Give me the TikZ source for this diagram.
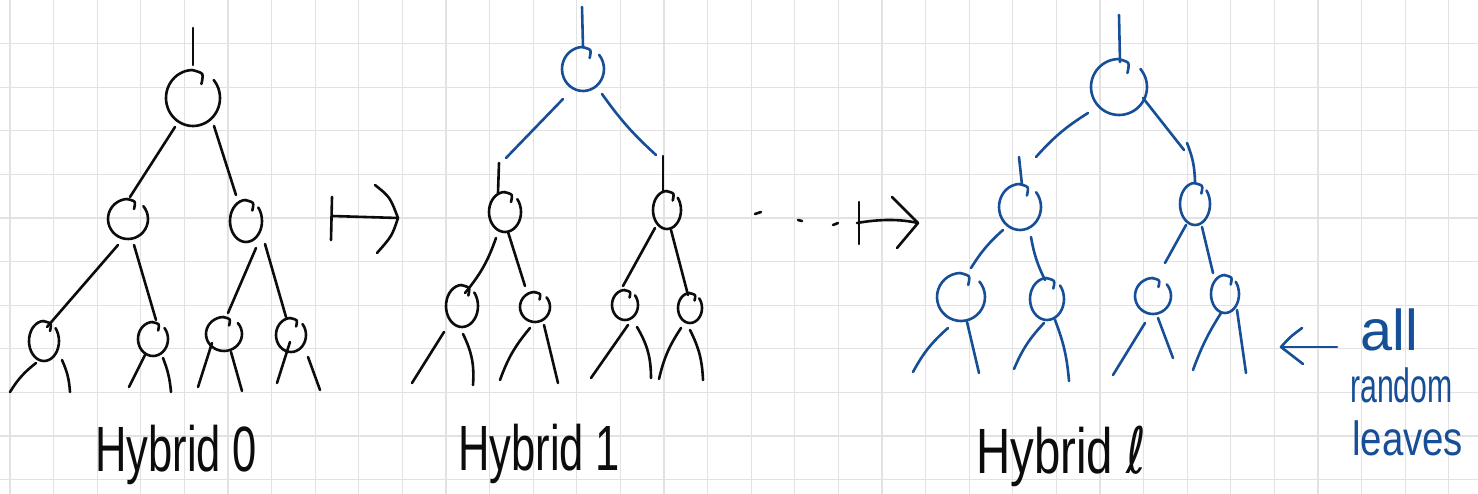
\documentclass[tikz,border=0pt]{standalone}
\usepackage{fontspec}
\setmainfont{Liberation Sans}
\newfontfamily\symbolfont{DejaVu Sans}
\usepackage{graphicx}
\usetikzlibrary{shapes.geometric}
\definecolor{inkblue}{RGB}{22,78,152}
\definecolor{inkblack}{RGB}{12,12,12}
\definecolor{gridline}{RGB}{226,226,226}

% A pen-drawn tree vertex: open loop with a small curl at the top.
% #1 colour, #2 name, #3/#4 centre, #5/#6 radii
\newcommand\handnode[6][inkblack]{%
  \node[circnode, minimum width={2*#5}, minimum height={2*#6}] (#2) at (#3,#4) {};
  \draw[pen,#1] plot[smooth, domain=-40:268, samples=32, variable=\q]
    ({#3+#5*cos(\q)},{#4+#6*sin(\q)});
  \draw[pen,#1] plot[smooth] coordinates {({#3-1},{#4-#6}) ({#3+0.33*#6},{#4-0.86*#6}) ({#3+0.3*#6},{#4-0.5*#6})};
}

\begin{document}
\begin{tikzpicture}[x=1pt,y=-1pt,
  pen/.style={line width=2.6pt,line cap=round,line join=round},
  circnode/.style={shape=ellipse,draw=none,inner sep=0pt,outer sep=0pt},
  hybrid/.style={anchor=base west,inner sep=0pt,text=inkblack,font=\fontsize{64}{70}\selectfont},
  note/.style={anchor=base west,inner sep=0pt,text=inkblue,font=\fontsize{48}{50}\selectfont}]

\useasboundingbox (0,0) rectangle (1478,494);
\fill[white] (0,0) rectangle (1478,494);

% squared paper
\foreach \k in {0,...,33}
  \draw[gridline, line width=1.2pt] ({10+43.6*\k},0) -- ({10+43.6*\k},494);
\foreach \k in {1,...,11}
  \draw[gridline, line width=1.2pt] (0,{43.6*\k}) -- (1478,{43.6*\k});

% ---------------- Hybrid 0 ----------------
\handnode{r0}{193}{98}{27}{28}
\handnode{a0}{128}{219}{20}{20}
\handnode{b0}{246}{221}{16}{21}
\handnode{c0}{44}{341}{15}{20}
\handnode{d0}{153}{339}{15}{17}
\handnode{e0}{224}{334}{18}{17}
\handnode{f0}{291}{335}{15}{17}
\begin{scope}[inkblack]
\draw[pen] ([shift={(0,-70)}]r0.center) -- ([shift={(0,-33)}]r0.center);
\draw[pen] ([shift={(-18,29)}]r0.center) -- ([shift={(2,-22)}]a0.center);
\draw[pen] ([shift={(21,28)}]r0.center) -- ([shift={(-10,-26)}]b0.center);
\draw[pen] ([shift={(-10,26)}]a0.center) -- ([shift={(3,-14)}]c0.center);
\draw[pen] ([shift={(6,26)}]a0.center) -- ([shift={(3,-19)}]d0.center);
\draw[pen] ([shift={(10,27)}]b0.center) -- ([shift={(4,-21)}]e0.center);
\draw[pen] ([shift={(19,23)}]b0.center) -- ([shift={(-5,-18)}]f0.center);
% leaves
\draw[pen] ([shift={(-8,22)}]c0.center) to[bend right=10] ([shift={(-34,51)}]c0.center);
\draw[pen] ([shift={(18,19)}]c0.center) to[bend left=10] ([shift={(26,51)}]c0.center);
\draw[pen] ([shift={(-8,16)}]d0.center) -- ([shift={(-24,48)}]d0.center);
\draw[pen] ([shift={(10,19)}]d0.center) to[bend left=8] ([shift={(18,53)}]d0.center);
\draw[pen] ([shift={(-12,9)}]e0.center) -- ([shift={(-26,53)}]e0.center);
\draw[pen] ([shift={(7,18)}]e0.center) -- ([shift={(18,57)}]e0.center);
\draw[pen] ([shift={(-1,7)}]f0.center) -- ([shift={(-14,48)}]f0.center);
\draw[pen] ([shift={(17,22)}]f0.center) -- ([shift={(29,55)}]f0.center);
\end{scope}
\node[hybrid] (lab0) at (95,471) {\scalebox{0.68}[1]{Hybrid 0}};

% maps-to arrow
\coordinate (m1bt) at (332,197);
\coordinate (m1bb) at (331,240);
\coordinate (m1s) at (332,216);
\coordinate (m1t) at (398,218);
\coordinate (m1u) at (375,185);
\coordinate (m1d) at (377,253);
\draw[pen,inkblack] (m1bt) -- (m1bb);
\draw[pen,inkblack] (m1s) -- (m1t);
\draw[pen,inkblack] (m1u) .. controls (390,197) .. (m1t) .. controls (392,236) .. (m1d);

% ---------------- Hybrid 1 ----------------
\handnode[inkblue]{r1}{583}{69}{21}{22}
\handnode{a1}{505}{212}{16}{20}
\handnode{b1}{667}{210}{14}{19}
\handnode{c1}{462}{306}{16}{21}
\handnode{d1}{535}{307}{15}{15}
\handnode{e1}{625}{305}{13}{15}
\handnode{f1}{690}{308}{12}{15}
\begin{scope}[inkblue]
\draw[pen] ([shift={(-1,-62)}]r1.center) -- ([shift={(0,-22)}]r1.center);
\draw[pen] ([shift={(-20,30)}]r1.center) -- ([shift={(1,-54)}]a1.center);
\draw[pen] ([shift={(19,25)}]r1.center) to[bend right=6] ([shift={(-11,-55)}]b1.center);
\end{scope}
\begin{scope}[inkblack]
\draw[pen] ([shift={(-6,-49)}]a1.center) -- ([shift={(-7,-19)}]a1.center);
\draw[pen] ([shift={(-4,-54)}]b1.center) -- ([shift={(-4,-18)}]b1.center);
\draw[pen] ([shift={(-9,26)}]a1.center) to[bend left=10] ([shift={(3,-13)}]c1.center);
\draw[pen] ([shift={(3,20)}]a1.center) -- ([shift={(-10,-21)}]d1.center);
\draw[pen] ([shift={(-12,18)}]b1.center) -- ([shift={(-2,-19)}]e1.center);
\draw[pen] ([shift={(4,20)}]b1.center) -- ([shift={(-2,-13)}]f1.center);
% leaves
\draw[pen] ([shift={(-18,26)}]c1.center) -- ([shift={(-50,77)}]c1.center);
\draw[pen] ([shift={(1,28)}]c1.center) to[bend left=15] ([shift={(11,79)}]c1.center);
\draw[pen] ([shift={(-5,21)}]d1.center) to[bend right=10] ([shift={(-35,73)}]d1.center);
\draw[pen] ([shift={(9,18)}]d1.center) -- ([shift={(23,76)}]d1.center);
\draw[pen] ([shift={(3,20)}]e1.center) -- ([shift={(-34,73)}]e1.center);
\draw[pen] ([shift={(12,22)}]e1.center) to[bend left=15] ([shift={(26,73)}]e1.center);
\draw[pen] ([shift={(-9,20)}]f1.center) to[bend right=10] ([shift={(-31,71)}]f1.center);
\draw[pen] ([shift={(0,22)}]f1.center) to[bend left=12] ([shift={(13,72)}]f1.center);
\end{scope}
\node[hybrid] (lab1) at (458,470) {\scalebox{0.68}[1]{Hybrid 1}};

% dots and second maps-to arrow
\coordinate (dt1a) at (755,214); \coordinate (dt1b) at (761,212);
\coordinate (dt2a) at (798,220); \coordinate (dt2b) at (802,221);
\coordinate (dt3a) at (833,225); \coordinate (dt3b) at (838,223);
\draw[pen,inkblack] (dt1a) -- (dt1b);
\draw[pen,inkblack] (dt2a) -- (dt2b);
\draw[pen,inkblack] (dt3a) -- (dt3b);
\coordinate (m2bt) at (859,202);
\coordinate (m2bb) at (859,244);
\coordinate (m2s) at (857,223);
\coordinate (m2t) at (918,223);
\coordinate (m2u) at (892,197);
\coordinate (m2d) at (897,248);
\draw[pen,inkblack] (m2bt) -- (m2bb);
\draw[pen,inkblack] (m2s) .. controls (880,219) and (900,219) .. (m2t);
\draw[pen,inkblack] (m2u) -- (m2t) -- (m2d);

% ---------------- Hybrid l ----------------
\handnode[inkblue]{rl}{1119}{87}{28}{28}
\handnode[inkblue]{al}{1020}{207}{21}{23}
\handnode[inkblue]{bl}{1195}{204}{15}{21}
\handnode[inkblue]{cl}{961}{297}{24}{24}
\handnode[inkblue]{dl}{1047}{299}{17}{21}
\handnode[inkblue]{el}{1153}{296}{18}{18}
\handnode[inkblue]{fl}{1225}{294}{14}{19}
\begin{scope}[inkblue]
\draw[pen] ([shift={(0,-72)}]rl.center) -- ([shift={(1,-25)}]rl.center);
\draw[pen] ([shift={(-31,26)}]rl.center) to[bend right=8] ([shift={(16,-50)}]al.center);
\draw[pen] ([shift={(24,11)}]rl.center) -- ([shift={(-11,-54)}]bl.center);
\draw[pen] ([shift={(-1,-50)}]al.center) -- ([shift={(2,-22)}]al.center);
\draw[pen] ([shift={(-8,-61)}]bl.center) to[bend left=10] ([shift={(0,-22)}]bl.center);
\draw[pen] ([shift={(-17,23)}]al.center) to[bend right=8] ([shift={(10,-29)}]cl.center);
\draw[pen] ([shift={(11,30)}]al.center) to[bend right=8] ([shift={(-2,-19)}]dl.center);
\draw[pen] ([shift={(-9,21)}]bl.center) -- ([shift={(12,-33)}]el.center);
\draw[pen] ([shift={(7,23)}]bl.center) -- ([shift={(-12,-21)}]fl.center);
% leaves
\draw[pen] ([shift={(-13,31)}]cl.center) to[bend right=10] ([shift={(-48,75)}]cl.center);
\draw[pen] ([shift={(6,25)}]cl.center) -- ([shift={(18,76)}]cl.center);
\draw[pen] ([shift={(-3,24)}]dl.center) to[bend right=10] ([shift={(-33,70)}]dl.center);
\draw[pen] ([shift={(8,21)}]dl.center) to[bend left=8] ([shift={(22,82)}]dl.center);
\draw[pen] ([shift={(-8,27)}]el.center) -- ([shift={(-40,79)}]el.center);
\draw[pen] ([shift={(5,22)}]el.center) -- ([shift={(20,62)}]el.center);
\draw[pen] ([shift={(-4,19)}]fl.center) to[bend right=6] ([shift={(-32,76)}]fl.center);
\draw[pen] ([shift={(12,16)}]fl.center) -- ([shift={(21,79)}]fl.center);
\end{scope}
\node[hybrid] (labl) at (976,473) {\scalebox{0.74}[1]{Hybrid {\symbolfont ℓ}}};

% pointer to the leaves
\coordinate (pa) at (1337,347);
\coordinate (pt) at (1281,347);
\coordinate (pu) at (1302,328);
\coordinate (pd) at (1303,364);
\draw[pen,inkblue] (pa) -- (pt);
\draw[pen,inkblue] (pu) .. controls (1290,337) .. (pt) .. controls (1292,355) .. (pd);
\node[note] (note1) at (1360,350) {\scalebox{1.2}[1.2]{all}};
\node[note] (note2) at (1350,402) {\scalebox{0.63}[1]{random}};
\node[note] (note3) at (1352,455) {\scalebox{0.8}[1]{leaves}};

\end{tikzpicture}
\end{document}
